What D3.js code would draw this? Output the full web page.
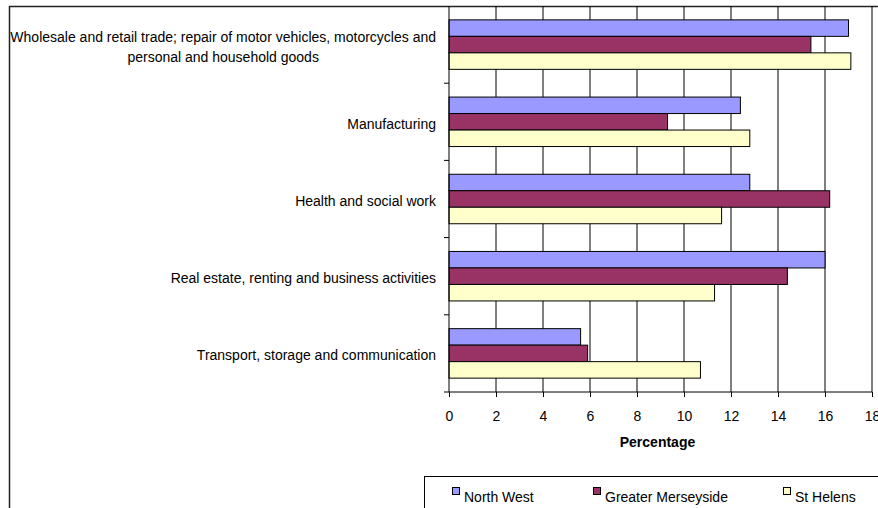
<!DOCTYPE html>
<html>
<head>
<meta charset="utf-8">
<script src="https://cdn.jsdelivr.net/npm/d3@7"></script>
<style>
  body { margin: 0; background: #fff; }
  svg { display: block; font-family: "Liberation Sans", Arial, sans-serif; }
</style>
</head>
<body>
<script>
// categories, top to bottom
const categories = [
  "Wholesale and retail trade; repair of motor vehicles, motorcycles and personal and household goods",
  "Manufacturing",
  "Health and social work",
  "Real estate, renting and business activities",
  "Transport, storage and communication"
]
const seriesNames = ["North West", "Greater Merseyside", "St Helens"]
const seriesColors = ["#9999ff", "#993366", "#ffffcc"]

const northWest = [17.0, 12.4, 12.8, 16.0, 5.6]
const greaterMerseyside = [15.4, 9.3, 16.2, 14.4, 5.9]
const stHelens = [17.1, 12.8, 11.6, 11.3, 10.7]
const xTicks = [0, 2, 4, 6, 8, 10, 12, 14, 16, 18]

const seriesValues = [northWest, greaterMerseyside, stHelens]

var width = 878, height = 508
var plotLeft = 449, plotRight = 872, plotTop = 6, plotBottom = 392
var fontSize = "14px"

var svg = d3.select("body").append("svg")
    .attr("width", width)
    .attr("height", height)

// outer chart border (runs off the right and bottom edges)
svg.append("path")
   .attr("d", "M9.5," + (height + 5) + "V6.5H" + (width + 5))
   .attr("fill", "none")
   .attr("stroke", "#222")
   .attr("stroke-width", 1.5)

var x = d3.scaleLinear().domain([0, 18]).range([plotLeft, plotRight])

var y0 = d3.scaleBand().domain(categories).range([plotTop, plotBottom])
var y1 = d3.scaleBand().domain(seriesNames)
           .range([0, y0.bandwidth()])
           .paddingInner(0).paddingOuter(0.84)

// vertical gridlines
svg.append("g").selectAll("line")
   .data(xTicks.slice(1))
   .join("line")
   .attr("x1", d => x(d)).attr("x2", d => x(d))
   .attr("y1", plotTop).attr("y2", plotBottom)
   .attr("stroke", "#000")
   .attr("stroke-width", 1)

// bars
var groups = svg.append("g").selectAll("g")
   .data(categories)
   .join("g")
   .attr("transform", d => "translate(0," + y0(d) + ")")

groups.selectAll("rect")
   .data((d, i) => seriesNames.map((s, j) => ({ s: s, j: j, v: seriesValues[j][i] })))
   .join("rect")
   .attr("x", x(0))
   .attr("y", d => y1(d.s))
   .attr("width", d => x(d.v) - x(0))
   .attr("height", y1.bandwidth())
   .attr("fill", d => seriesColors[d.j])
   .attr("stroke", "#000")
   .attr("stroke-width", 1)

// x axis
var xAxis = d3.axisBottom(x).tickValues(xTicks).tickSize(5).tickPadding(14)
var gx = svg.append("g")
   .attr("transform", "translate(0," + plotBottom + ")")
   .call(xAxis)
gx.select(".domain").attr("d", "M" + plotLeft + ",0H" + plotRight)
gx.selectAll("line").attr("stroke", "#000")
gx.selectAll("text")
  .attr("font-size", fontSize)
  .attr("font-family", "Liberation Sans, Arial, sans-serif")
  .attr("fill", "#000")

svg.append("text")
   .attr("x", (plotLeft + plotRight) / 2 - 3)
   .attr("y", 446.5)
   .attr("text-anchor", "middle")
   .attr("font-size", fontSize)
   .attr("font-weight", "bold")
   .text("Percentage")

// y axis line and ticks at category boundaries
svg.append("line")
   .attr("x1", plotLeft).attr("x2", plotLeft)
   .attr("y1", plotTop).attr("y2", plotBottom)
   .attr("stroke", "#000")
var bounds = categories.map(c => y0(c)).slice(1).concat([plotBottom])
svg.append("g").selectAll("line")
   .data(bounds)
   .join("line")
   .attr("x1", plotLeft - 5).attr("x2", plotLeft)
   .attr("y1", d => d).attr("y2", d => d)
   .attr("stroke", "#000")

// category labels, wrapped and centred inside a right-aligned block
var labelRight = 436, maxLabelWidth = 430, lineGap = 20
categories.forEach(function(c) {
    var t = svg.append("text")
       .attr("font-size", fontSize)
       .attr("text-anchor", "middle")
       .attr("fill", "#000")
    var words = c.split(" "), lines = [], cur = []
    var probe = t.append("tspan")
    words.forEach(function(w) {
        probe.text(cur.concat([w]).join(" "))
        if (cur.length && probe.node().getComputedTextLength() > maxLabelWidth) {
            lines.push(cur.join(" "))
            cur = [w]
        } else {
            cur.push(w)
        }
    })
    lines.push(cur.join(" "))
    var widths = lines.map(function(l) { probe.text(l); return probe.node().getComputedTextLength() })
    probe.remove()
    var blockW = d3.max(widths)
    var cx = labelRight - blockW / 2
    var mid = y0(c) + y0.bandwidth() / 2
    var firstBase = mid + 7 - (lines.length - 1) * lineGap / 2
    lines.forEach(function(l, i) {
        t.append("tspan")
         .attr("x", cx)
         .attr("y", firstBase + i * lineGap)
         .text(l)
    })
})

// legend
svg.append("rect")
   .attr("x", 424.5).attr("y", 476.5)
   .attr("width", 500).attr("height", 60)
   .attr("fill", "#fff")
   .attr("stroke", "#000")
   .attr("stroke-width", 1)

var legendX = [452, 593, 783]
var leg = svg.append("g").selectAll("g")
   .data(seriesNames)
   .join("g")
   .attr("transform", (d, i) => "translate(" + legendX[i] + ",0)")
leg.append("rect")
   .attr("x", 0.5).attr("y", 487.5)
   .attr("width", 7).attr("height", 7)
   .attr("fill", (d, i) => seriesColors[i])
   .attr("stroke", "#000")
leg.append("text")
   .attr("x", 12).attr("y", 502)
   .attr("font-size", fontSize)
   .text(d => d)
</script>
</body>
</html>
